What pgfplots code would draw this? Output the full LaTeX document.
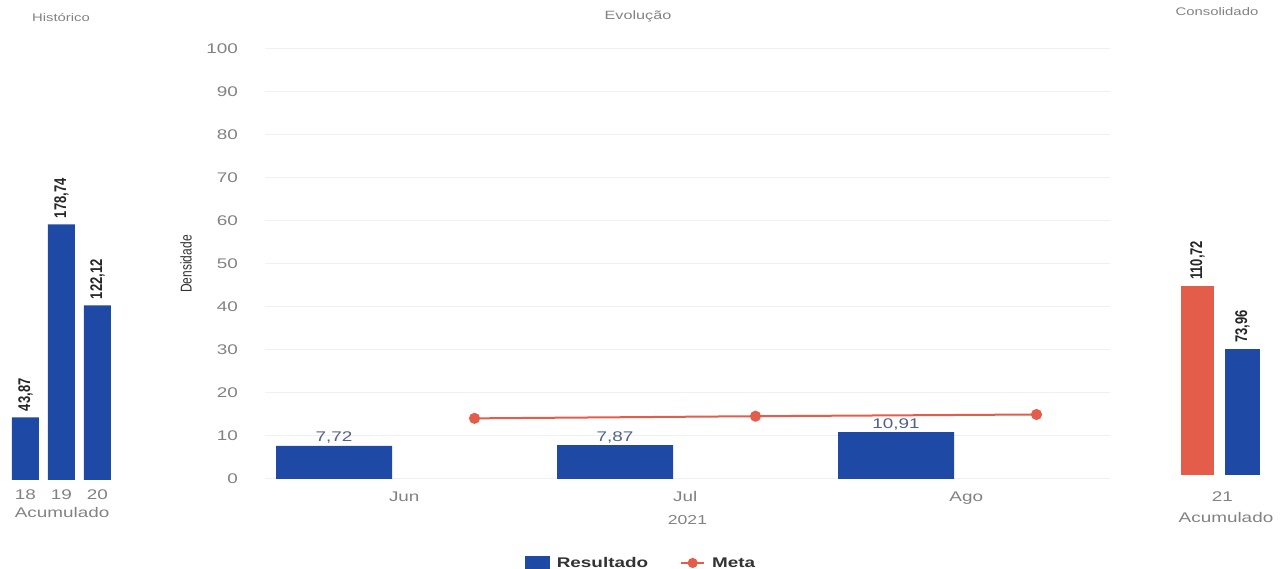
\documentclass[border=0pt]{standalone}
\usepackage{fontspec}
\usepackage{pgfplots}
\pgfplotsset{compat=1.18}
\setmainfont{Liberation Sans}
\newfontfamily\wide{Liberation Sans}[FakeStretch=1.35]
\definecolor{bblue}{RGB}{30,74,165}
\definecolor{mred}{RGB}{228,92,74}
\definecolor{tgrey}{RGB}{130,130,130}
\definecolor{lblue}{RGB}{80,98,140}
\newcommand{\fs}[1]{\fontsize{#1}{#1}\selectfont}
\newcommand{\vnum}{\pgfmathprintnumber[use comma,fixed,fixed zerofill,precision=2]{\pgfplotspointmeta}}
\pgfplotsset{/pgf/number format/assume math mode=true}
\begin{document}
\begin{tikzpicture}
\useasboundingbox (0,0) rectangle (1283pt,569pt);

% ---------------- main chart ----------------
\begin{axis}[
  at={(265pt,90pt)}, anchor=south west,
  scale only axis, width=845pt, height=430pt,
  xmin=-0.2456, xmax=2.7616, ymin=0, ymax=100,
  ytick={0,10,...,100},
  xtick={0.25,1.25,2.25}, xticklabels={Jun,Jul,Ago},
  axis line style={draw=none},
  major tick length=0pt,
  ymajorgrids, grid style={gray!12, line width=1pt},
  yticklabel style={font=\wide\fs{14}, text=tgrey, anchor=east, inner sep=0pt, xshift=-27pt},
  xticklabel style={font=\wide\fs{14}, text=tgrey, anchor=base, inner sep=0pt, yshift=-23pt},
  xlabel={2021},
  xlabel style={at={(axis description cs:0.5,-0.0953)}, anchor=center, font=\wide\fs{13}, text=tgrey},
  ylabel={\scalebox{1}[1.3]{Densidade}},
  ylabel style={at={(axis description cs:-0.0935,0.5)}, anchor=center, font=\fs{12}, text=black!80},
  title={Evolução},
  title style={at={(axis description cs:0.4414,1.0628)}, anchor=center, font=\wide\fs{12}, text=tgrey},
  legend style={at={(axis description cs:0.445,-0.1953)}, anchor=center, draw=none, fill=none,
    font=\wide\bfseries\fs{14}, text=black!80,
    /tikz/every odd column/.append style={column sep=5pt},
    /tikz/every even column/.append style={column sep=30pt}},
  legend columns=2,
]
\addplot[ybar, bar width=116pt, bar shift=0pt, fill=bblue, draw=none,
  nodes near coords={\vnum},
  nodes near coords style={font=\wide\fs{14}, text=lblue, anchor=south, inner sep=0pt, yshift=2pt},
  legend image code/.code={\fill[bblue] (0pt,-6pt) rectangle (25pt,7pt);}]
  coordinates {(0,7.72) (1,7.87) (2,10.91)};
\addlegendentry{Resultado}
\addplot[mred, line width=2pt, mark=*, mark size=4.5pt, mark options={fill=mred, draw=mred},
  legend image code/.code={\draw[mred, line width=2pt] (0pt,0pt) -- (23pt,0pt); \fill[mred] (11.5pt,0pt) circle (4pt);}]
  coordinates {(0.5,14.1) (1.5,14.6) (2.5,15.0)};
\addlegendentry{Meta}
\end{axis}

% ---------------- Historico ----------------
\begin{axis}[
  at={(7.5pt,89pt)}, anchor=south west,
  scale only axis, width=108pt, height=357.5pt,
  xmin=-0.5, xmax=2.5, ymin=0, ymax=250,
  xtick={0,1,2}, xticklabels={18,19,20}, ytick=\empty,
  axis line style={draw=none}, major tick length=0pt,
  xticklabel style={font=\wide\fs{14}, text=tgrey, anchor=base, inner sep=0pt, yshift=-20pt},
  xlabel={Acumulado},
  xlabel style={at={(axis description cs:0.505,-0.1063)}, anchor=base, font=\wide\fs{14}, text=tgrey},
  title={Histórico},
  title style={at={(axis description cs:0.495,1.2755)}, anchor=center, font=\wide\fs{11}, text=tgrey},
]
\addplot[ybar, bar width=27pt, bar shift=0pt, fill=bblue, draw=none,
  nodes near coords={\scalebox{1}[1.3]{\vnum}},
  nodes near coords style={rotate=90, anchor=west, inner sep=6pt, font=\bfseries\fs{13}, text=black!85}]
  coordinates {(0,43.87) (1,178.74) (2,122.12)};
\end{axis}

% ---------------- Consolidado ----------------
\begin{axis}[
  at={(1170pt,94pt)}, anchor=south west,
  scale only axis, width=100pt, height=375.5pt,
  xmin=-0.611, xmax=1.611, ymin=0, ymax=220,
  xtick={0.55}, xticklabels={21}, ytick=\empty,
  axis line style={draw=none}, major tick length=0pt,
  xticklabel style={font=\wide\fs{14}, text=tgrey, anchor=base, inner sep=0pt, yshift=-27pt},
  xlabel={Acumulado},
  xlabel style={at={(axis description cs:0.56,-0.1252)}, anchor=base, font=\wide\fs{14}, text=tgrey},
  title={Consolidado},
  title style={at={(axis description cs:0.47,1.2184)}, anchor=center, font=\wide\fs{11}, text=tgrey},
]
\addplot[ybar, bar width=33pt, bar shift=0pt, fill=mred, draw=none,
  nodes near coords={\scalebox{1}[1.3]{\vnum}},
  nodes near coords style={rotate=90, anchor=west, inner sep=6pt, font=\bfseries\fs{13}, text=black!85}]
  coordinates {(0,110.72)};
\addplot[ybar, bar width=35pt, bar shift=0pt, fill=bblue, draw=none,
  nodes near coords={\scalebox{1}[1.3]{\vnum}},
  nodes near coords style={rotate=90, anchor=west, inner sep=6pt, font=\bfseries\fs{13}, text=black!85}]
  coordinates {(1,73.96)};
\end{axis}
\end{tikzpicture}
\end{document}
